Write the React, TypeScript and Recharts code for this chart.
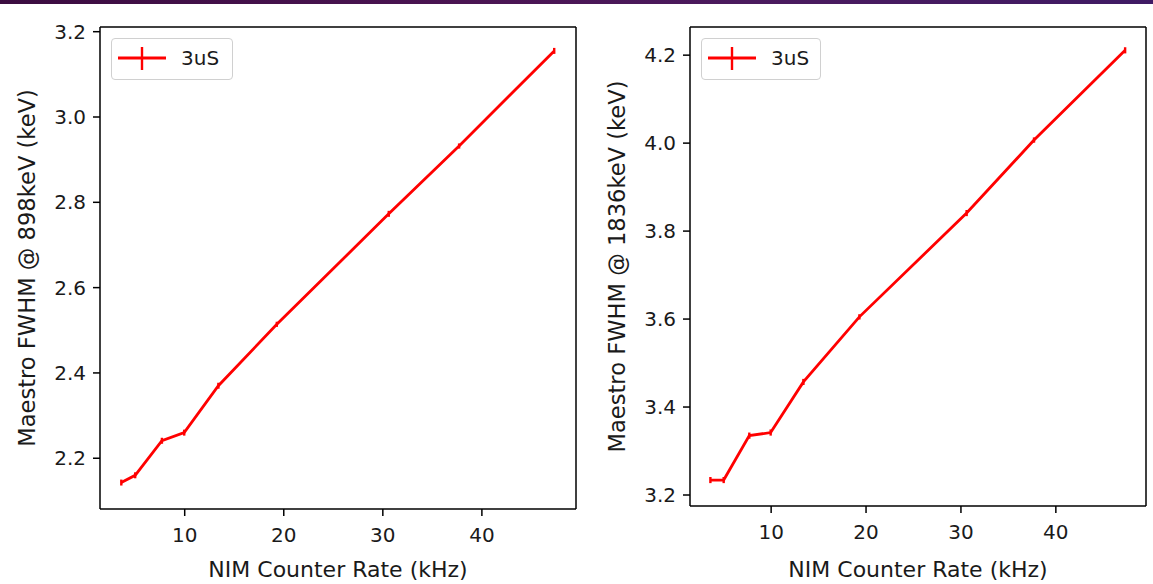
import React from 'react';
import { LineChart, Line, XAxis, YAxis, ErrorBar, ReferenceLine } from 'recharts';

const rates = [3.6, 5.0, 7.7, 9.95, 13.4, 19.3, 30.6, 37.7, 47.3];
const fwhm898 = [2.143, 2.16, 2.241, 2.26, 2.37, 2.514, 2.773, 2.932, 3.155];
const err898 = [0.007, 0.007, 0.007, 0.007, 0.007, 0.006, 0.007, 0.006, 0.007];
const fwhm1836 = [3.234, 3.234, 3.335, 3.342, 3.457, 3.605, 3.841, 4.007, 4.211];
const err1836 = [0.007, 0.007, 0.007, 0.007, 0.007, 0.006, 0.007, 0.006, 0.007];
const xTicks = [10, 20, 30, 40];
const yTicks898 = [2.2, 2.4, 2.6, 2.8, 3.0, 3.2];
const yTicks1836 = [3.2, 3.4, 3.6, 3.8, 4.0, 4.2];
const seriesName = '3uS';
const xLabel = 'NIM Counter Rate (kHz)';
const yLabel898 = 'Maestro FWHM @ 898keV (keV)';
const yLabel1836 = 'Maestro FWHM @ 1836keV (keV)';

const FONT = '"DejaVu Sans", sans-serif';
const TXT = '#1a1a1a';
const RED = '#ff0000';
const X_DOMAIN: [number, number] = [1.45, 49.5];

type PanelProps = {
  left: number;
  width: number;
  values: number[];
  errors: number[];
  yDomain: [number, number];
  yTicks: number[];
  yLabel: string;
  marginRight: number;
  xHeight: number;
  legendWidth: number;
};

function Panel(p: PanelProps) {
  const data = rates.map((r, i) => ({ rate: r, fwhm: p.values[i], err: p.errors[i] }));
  const axisStyle = { stroke: '#000', strokeWidth: 1.5 };
  return (
    <div style={{ position: 'absolute', left: p.left, top: 0, width: p.width, height: 584 }}>
      <LineChart
        width={p.width}
        height={584}
        data={data}
        margin={{ top: 27, right: p.marginRight, bottom: 0, left: 0 }}
        style={{ fontFamily: FONT }}
      >
        <XAxis
          dataKey="rate"
          type="number"
          domain={X_DOMAIN}
          allowDataOverflow
          ticks={xTicks}
          tickFormatter={(v: number) => String(v)}
          height={p.xHeight}
          tickSize={7}
          tickMargin={12}
          axisLine={axisStyle}
          tickLine={axisStyle}
          tick={{ fill: TXT, fontSize: 20, fontFamily: FONT }}
          label={{ value: xLabel, position: 'insideBottom', offset: 7, fill: TXT, fontSize: 22, fontFamily: FONT }}
        />
        <YAxis
          type="number"
          domain={p.yDomain}
          allowDataOverflow
          ticks={p.yTicks}
          tickFormatter={(v: number) => v.toFixed(1)}
          width={100}
          tickSize={7}
          tickMargin={7}
          axisLine={axisStyle}
          tickLine={axisStyle}
          tick={{ fill: TXT, fontSize: 20, fontFamily: FONT }}
          label={{
            value: p.yLabel,
            angle: -90,
            position: 'insideLeft',
            offset: 27,
            fill: TXT,
            fontSize: 22.6,
            fontFamily: FONT,
            style: { textAnchor: 'middle' },
          }}
        />
        <ReferenceLine y={p.yDomain[1]} stroke="#000" strokeWidth={1.5} ifOverflow="visible" />
        <ReferenceLine x={X_DOMAIN[1]} stroke="#000" strokeWidth={1.5} ifOverflow="visible" />
        <Line
          dataKey="fwhm"
          name={seriesName}
          stroke={RED}
          strokeWidth={2.8}
          dot={false}
          activeDot={false}
          isAnimationActive={false}
        >
          <ErrorBar dataKey="err" direction="y" width={0} stroke={RED} strokeWidth={2.4} isAnimationActive={false} />
        </Line>
      </LineChart>
      <div
        style={{
          position: 'absolute',
          left: 111,
          top: 38,
          width: p.legendWidth,
          height: 42,
          boxSizing: 'border-box',
          border: '1px solid #d0d0d0',
          borderRadius: 4,
          background: 'rgba(255,255,255,0.8)',
          fontFamily: FONT,
        }}
      >
        <svg width={60} height={40} style={{ position: 'absolute', left: 0, top: 0 }}>
          <line x1={6} y1={19} x2={54} y2={19} stroke={RED} strokeWidth={2.8} />
          <line x1={30} y1={8} x2={30} y2={31} stroke={RED} strokeWidth={2.4} />
        </svg>
        <span
          style={{
            position: 'absolute',
            left: 69,
            top: 7,
            fontSize: 20,
            lineHeight: '24px',
            color: TXT,
          }}
        >
          {seriesName}
        </span>
      </div>
    </div>
  );
}

export default function App() {
  return (
    <div
      style={{
        position: 'absolute',
        left: 0,
        top: 0,
        width: 1153,
        height: 584,
        background: '#fff',
        overflow: 'hidden',
      }}
    >
      <div
        style={{
          position: 'absolute',
          left: 0,
          top: 0,
          width: 1153,
          height: 4,
          background: 'linear-gradient(90deg, #3b0c40 0%, #4a1452 40%, #4b1a5e 65%, #3f1a64 100%)',
        }}
      />
      <Panel
        left={0}
        width={590}
        values={fwhm898}
        errors={err898}
        yDomain={[2.081, 3.211]}
        yTicks={yTicks898}
        yLabel={yLabel898}
        marginRight={14}
        xHeight={75}
        legendWidth={122}
      />
      <Panel
        left={590}
        width={563}
        values={fwhm1836}
        errors={err1836}
        yDomain={[3.175, 4.264]}
        yTicks={yTicks1836}
        yLabel={yLabel1836}
        marginRight={7}
        xHeight={78}
        legendWidth={120}
      />
    </div>
  );
}
